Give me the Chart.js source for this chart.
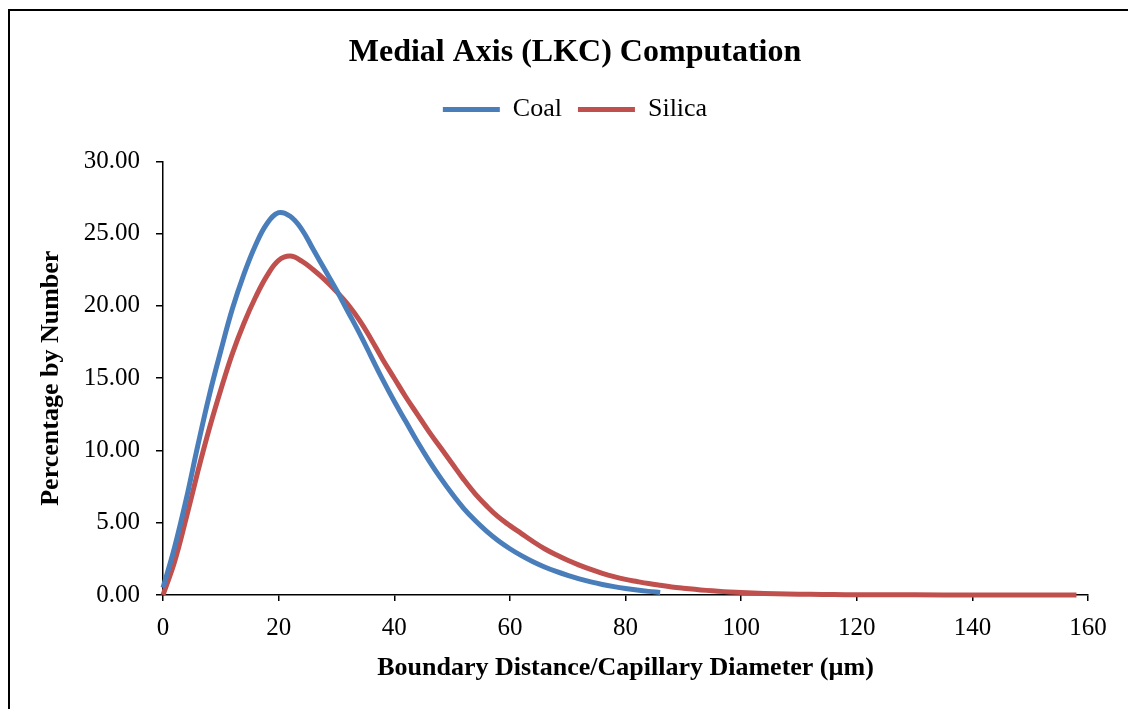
<!DOCTYPE html>
<html>
<head>
<meta charset="utf-8">
<script src="https://cdn.jsdelivr.net/npm/chart.js@4"></script>
<style>
  html, body { margin: 0; padding: 0; background: #fff; }
  #frame { position: absolute; left: 8px; top: 9px; width: 1140px; height: 720px;
           border-left: 2px solid #000; border-top: 2px solid #000; }
  #wrap { position: absolute; left: 0; top: 0; width: 1128px; height: 709px; }
</style>
</head>
<body>
<div id="frame"></div>
<div id="wrap"><canvas id="line-chart" width="1128" height="709"></canvas></div>
<script>
// values
var coalX = [0, 2, 4, 6, 8, 10, 12, 14, 16, 18, 20, 22, 24, 26, 28, 30, 32, 34, 36, 38, 40,
             42, 44, 46, 48, 50, 52, 54, 56, 58, 60, 62, 64, 66, 68, 70, 72, 74, 76, 78, 80, 82, 84, 86];
var coalY = [0.5, 3.3, 6.6, 10.3, 13.8, 16.9, 19.8, 22.2, 24.2, 25.7, 26.45, 26.2, 25.3, 23.9, 22.5, 21.1,
             19.6, 18.1, 16.5, 14.9, 13.4, 12.0, 10.6, 9.3, 8.1, 7.0, 6.0, 5.15, 4.4, 3.75, 3.2, 2.72,
             2.3, 1.94, 1.63, 1.36, 1.12, 0.91, 0.73, 0.58, 0.45, 0.34, 0.25, 0.18];

var silicaX = [0, 2, 4, 6, 8, 10, 12, 14, 16, 18, 20, 22, 24, 26, 28, 30, 32, 34, 36, 38, 40,
               42, 44, 46, 48, 50, 52, 54, 56, 58, 60, 62, 64, 66, 68, 70, 72, 74, 76, 78, 80,
               82, 84, 86, 88, 90, 92, 94, 96, 98, 100, 104, 108, 112, 116, 120, 130, 140, 150, 158];
var silicaY = [0, 2.3, 5.3, 8.5, 11.5, 14.2, 16.7, 18.8, 20.6, 22.1, 23.15, 23.45, 23.1, 22.5, 21.8, 21.0,
               20.1, 19.0, 17.7, 16.3, 15.0, 13.7, 12.5, 11.3, 10.2, 9.1, 8.0, 7.0, 6.15, 5.4,
               4.8, 4.25, 3.7, 3.2, 2.78, 2.4, 2.07, 1.77, 1.5, 1.27, 1.08, 0.93, 0.79, 0.67, 0.56,
               0.47, 0.39, 0.32, 0.26, 0.21, 0.17, 0.11, 0.07, 0.045, 0.03, 0.02, 0.01, 0.005, 0, 0];

var xTicks = [0, 20, 40, 60, 80, 100, 120, 140, 160];
var yTicks = [0, 5, 10, 15, 20, 25, 30];

function toPoints(xs, ys) {
    return xs.map(function(x, i) { return {x: x, y: ys[i]}; });
}

var serif = '"Liberation Serif", "Times New Roman", serif';
Chart.defaults.font.family = serif;
Chart.defaults.color = '#000';

var ctx = document.getElementById('line-chart');
var lineChart = new Chart(ctx, {
    type: 'line',
    data: {
        datasets: [
            {
                label: 'Coal',
                data: toPoints(coalX, coalY),
                borderColor: '#4A7EBB',
                backgroundColor: '#4A7EBB',
                borderWidth: 5,
                pointRadius: 0,
                tension: 0.4,
                clip: false
            },
            {
                label: 'Silica',
                data: toPoints(silicaX, silicaY),
                borderColor: '#C0504D',
                backgroundColor: '#C0504D',
                borderWidth: 5,
                pointRadius: 0,
                tension: 0.4,
                clip: false
            }
        ]
    },
    options: {
        responsive: false,
        animation: false,
        layout: { padding: { left: 62, right: 40, top: 0, bottom: 0 } },
        plugins: {
            title: {
                display: true,
                text: 'Medial Axis (LKC) Computation',
                font: { size: 32, weight: 'bold' },
                color: '#000',
                padding: { top: 34, bottom: 8 }
            },
            legend: {
                position: 'top',
                labels: {
                    boxWidth: 57,
                    boxHeight: 5,
                    padding: 16,
                    font: { size: 26 },
                    color: '#000',
                    generateLabels: function(chart) {
                        var items = Chart.defaults.plugins.legend.labels.generateLabels(chart);
                        items.forEach(function(it) { it.lineWidth = 0; it.fillStyle = it.strokeStyle; });
                        return items;
                    }
                }
            },
            tooltip: { enabled: false }
        },
        scales: {
            x: {
                type: 'linear',
                min: 0,
                max: 160,
                afterBuildTicks: function(s) { s.ticks = xTicks.map(function(v) { return {value: v}; }); },
                afterFit: function(s) { s.height = 114; },
                grid: { display: true, drawOnChartArea: false, drawTicks: true, tickLength: 6, color: '#000', lineWidth: 1.5 },
                border: { display: true, color: '#000', width: 1.5 },
                ticks: { font: { size: 25 }, color: '#000', padding: 12 },
                title: {
                    display: true,
                    text: 'Boundary Distance/Capillary Diameter (µm)',
                    font: { size: 26, weight: 'bold' },
                    color: '#000',
                    padding: { top: 0, bottom: 25 }
                }
            },
            top: {
                type: 'linear',
                position: 'top',
                display: true,
                grid: { display: false },
                border: { display: false },
                ticks: { display: false },
                afterFit: function(s) { s.height = 29; }
            },
            y: {
                min: 0,
                max: 30,
                afterBuildTicks: function(s) { s.ticks = yTicks.map(function(v) { return {value: v}; }); },
                afterFit: function(s) { s.width = 101; },
                grid: { display: true, drawOnChartArea: false, drawTicks: true, tickLength: 7, color: '#000', lineWidth: 1.5 },
                border: { display: true, color: '#000', width: 1.5 },
                ticks: {
                    font: { size: 25 },
                    color: '#000',
                    padding: 16,
                    callback: function(v) { return v.toFixed(2); }
                },
                title: {
                    display: true,
                    text: 'Percentage by Number',
                    font: { size: 26, weight: 'bold' },
                    color: '#000',
                    padding: { top: -26, bottom: 0 }
                }
            }
        }
    }
});
</script>
</body>
</html>
